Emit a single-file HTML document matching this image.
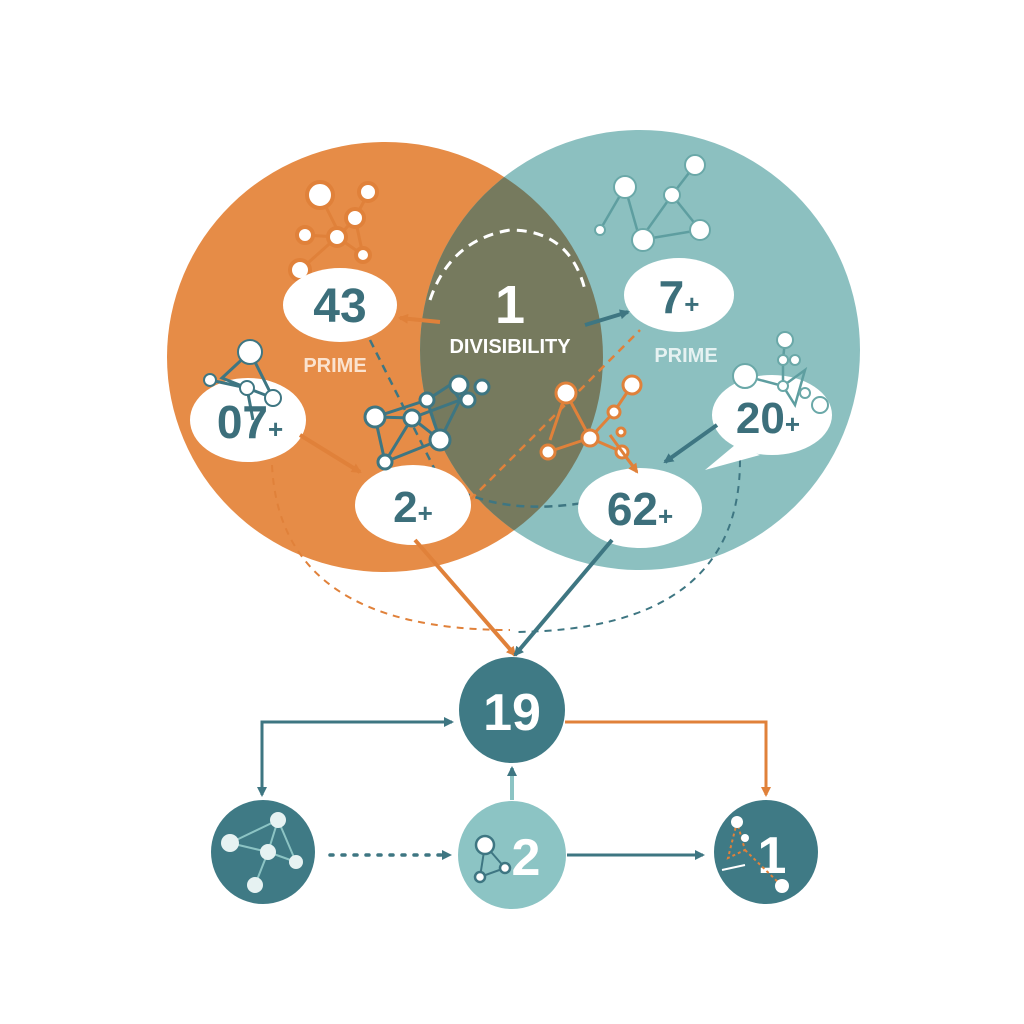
<!DOCTYPE html>
<html><head><meta charset="utf-8"><style>html,body{margin:0;padding:0;background:#fff}svg{display:block}text{font-family:"Liberation Sans",sans-serif;font-weight:bold}</style></head><body>
<svg width="1024" height="1024" viewBox="0 0 1024 1024" xmlns="http://www.w3.org/2000/svg">
<defs>
<clipPath id="oc"><ellipse cx="385" cy="357" rx="218" ry="215"/></clipPath>
<marker id="ao" markerWidth="10" markerHeight="10" refX="8" refY="5" orient="auto" markerUnits="userSpaceOnUse"><path d="M0,0 L10,5 L0,10 z" fill="#E0813A"/></marker>
<marker id="at" markerWidth="10" markerHeight="10" refX="8" refY="5" orient="auto" markerUnits="userSpaceOnUse"><path d="M0,0 L10,5 L0,10 z" fill="#3E7682"/></marker>
</defs>
<rect width="1024" height="1024" fill="#fff"/>
<ellipse cx="385" cy="357" rx="218" ry="215" fill="#E68C47"/>
<ellipse cx="640" cy="350" rx="220" ry="220" fill="#8CC0C0"/>
<ellipse cx="640" cy="350" rx="220" ry="220" fill="#767A5E" clip-path="url(#oc)"/>
<path d="M272 465 Q280 630 510 630" fill="none" stroke="#E0813A" stroke-width="2" stroke-dasharray="7,6"/>
<path d="M740 460 Q740 630 515 632" fill="none" stroke="#3E7682" stroke-width="2" stroke-dasharray="7,6"/>
<path d="M430 300 Q450 240 510 230 Q570 230 585 290" fill="none" stroke="#fff" stroke-width="3" stroke-dasharray="10,7"/>
<path d="M370 340 L440 480 Q500 520 600 500" fill="none" stroke="#3E7682" stroke-width="2.5" stroke-dasharray="8,6"/>
<path d="M470 500 L540 430 L640 330" fill="none" stroke="#E0813A" stroke-width="2.5" stroke-dasharray="8,6"/>
<g stroke="#E0813A" stroke-width="3" fill="none"><path d="M320 195 L340 235 L355 218 L370 190 M305 235 L337 237 L363 255 L355 218 M337 237 L300 270"/></g>
<g fill="#fff" stroke="#E0813A" stroke-width="4"><circle cx="320" cy="195" r="13"/><circle cx="368" cy="192" r="9"/><circle cx="355" cy="218" r="9"/><circle cx="305" cy="235" r="8"/><circle cx="337" cy="237" r="9"/><circle cx="363" cy="255" r="7"/><circle cx="300" cy="270" r="10"/></g>
<g stroke="#5E9EA0" stroke-width="2.5" fill="none"><path d="M625 187 L640 240 L672 195 L695 165 M625 187 L600 230 M672 195 L700 230 L640 240"/></g>
<g fill="#fff" stroke="#6AA8A8" stroke-width="2"><circle cx="625" cy="187" r="11"/><circle cx="695" cy="165" r="10"/><circle cx="672" cy="195" r="8"/><circle cx="600" cy="230" r="5"/><circle cx="700" cy="230" r="10"/><circle cx="643" cy="240" r="11"/></g>
<g fill="#fff">
<ellipse cx="340" cy="305" rx="57" ry="37"/>
<ellipse cx="679" cy="295" rx="55" ry="37"/>
<ellipse cx="248" cy="420" rx="58" ry="42"/>
<ellipse cx="413" cy="505" rx="58" ry="40"/>
<ellipse cx="640" cy="508" rx="62" ry="40"/>
<path d="M705 470 L735 445 L760 455 Z"/>
<ellipse cx="772" cy="415" rx="60" ry="40"/>
</g>
<g stroke="#3E7682" stroke-width="3" fill="none"><path d="M250 352 L222 378 L247 388 L253 420 M250 352 L273 398 L247 388 M210 380 L247 388"/></g>
<g fill="#fff" stroke="#3E7682" stroke-width="2"><circle cx="250" cy="352" r="12"/><circle cx="210" cy="380" r="6"/><circle cx="247" cy="388" r="7"/><circle cx="273" cy="398" r="8"/></g>
<g stroke="#3E7682" stroke-width="3" fill="none"><path d="M375 417 L427 400 L450 385 L460 400 L412 418 L375 417 L385 462 L412 418 L440 440 L385 462 M427 400 L440 440 M460 400 L440 440"/></g>
<g fill="#fff" stroke="#3E7682" stroke-width="3"><circle cx="375" cy="417" r="10"/><circle cx="427" cy="400" r="7"/><circle cx="459" cy="385" r="9"/><circle cx="482" cy="387" r="7"/><circle cx="468" cy="400" r="7"/><circle cx="412" cy="418" r="8"/><circle cx="440" cy="440" r="10"/><circle cx="385" cy="462" r="7"/></g>
<g stroke="#E0813A" stroke-width="3" fill="none"><path d="M566 393 L590 438 L614 412 L632 385 M590 438 L548 452 M590 438 L622 452 L636 470 M566 393 L550 440"/></g>
<g fill="#fff" stroke="#E0813A" stroke-width="3"><circle cx="566" cy="393" r="10"/><circle cx="632" cy="385" r="9"/><circle cx="614" cy="412" r="6"/><circle cx="590" cy="438" r="8"/><circle cx="548" cy="452" r="7"/><circle cx="622" cy="452" r="6"/><circle cx="621" cy="432" r="4"/></g>
<g stroke="#5E9EA0" stroke-width="2.5" fill="none"><path d="M785 340 L783 360 L783 386 L795 405 L805 370 L783 386 M745 376 L783 386"/></g>
<g fill="#fff" stroke="#6AA8A8" stroke-width="2"><circle cx="785" cy="340" r="8"/><circle cx="745" cy="376" r="12"/><circle cx="783" cy="360" r="5"/><circle cx="795" cy="360" r="5"/><circle cx="783" cy="386" r="5"/><circle cx="805" cy="393" r="5"/><circle cx="820" cy="405" r="8"/></g>
<line x1="440" y1="322" x2="400" y2="318" stroke="#E0813A" stroke-width="4" marker-end="url(#ao)"/>
<line x1="585" y1="325" x2="628" y2="312" stroke="#3E7682" stroke-width="4" marker-end="url(#at)"/>
<line x1="300" y1="435" x2="360" y2="472" stroke="#E0813A" stroke-width="4" marker-end="url(#ao)"/>
<line x1="717" y1="425" x2="665" y2="462" stroke="#3E7682" stroke-width="4" marker-end="url(#at)"/>
<line x1="610" y1="435" x2="637" y2="472" stroke="#E0813A" stroke-width="3" marker-end="url(#ao)"/>
<g fill="#3C6F7B" text-anchor="middle">
<text x="340" y="322" font-size="48">43</text>
<text x="679" y="313" font-size="46">7<tspan font-size="26">+</tspan></text>
<text x="250" y="438" font-size="46">07<tspan font-size="26">+</tspan></text>
<text x="413" y="522" font-size="44">2<tspan font-size="26">+</tspan></text>
<text x="640" y="525" font-size="46">62<tspan font-size="26">+</tspan></text>
<text x="768" y="433" font-size="44">20<tspan font-size="26">+</tspan></text>
</g>
<text x="510" y="323" font-size="54" fill="#fff" text-anchor="middle">1</text>
<text x="510" y="353" font-size="20" fill="#fff" text-anchor="middle">DIVISIBILITY</text>
<text x="335" y="372" font-size="20" fill="#FBE3CF" text-anchor="middle">PRIME</text>
<text x="686" y="362" font-size="20" fill="#E6F2F2" text-anchor="middle">PRIME</text>
<line x1="415" y1="540" x2="515" y2="655" stroke="#E0813A" stroke-width="4" marker-end="url(#ao)"/>
<line x1="612" y1="540" x2="515" y2="655" stroke="#3E7682" stroke-width="4" marker-end="url(#at)"/>
<path d="M262 795 L262 722 L452 722" fill="none" stroke="#3E7682" stroke-width="3" marker-end="url(#at)"/>
<path d="M262 735 L262 795" fill="none" stroke="#3E7682" stroke-width="3" marker-end="url(#at)"/>
<path d="M565 722 L766 722 L766 795" fill="none" stroke="#E0813A" stroke-width="3" marker-end="url(#ao)"/>
<line x1="512" y1="800" x2="512" y2="768" stroke="#8CC4C4" stroke-width="4" marker-end="url(#at)"/>
<line x1="330" y1="855" x2="450" y2="855" stroke="#3E7682" stroke-width="3.5" stroke-dasharray="3,9" stroke-linecap="round" marker-end="url(#at)"/>
<line x1="567" y1="855" x2="703" y2="855" stroke="#3E7682" stroke-width="3" marker-end="url(#at)"/>
<circle cx="512" cy="710" r="53" fill="#3F7A85"/>
<text x="512" y="730" font-size="52" fill="#fff" text-anchor="middle">19</text>
<circle cx="263" cy="852" r="52" fill="#3F7A85"/>
<g stroke="#8CC4C4" stroke-width="2" fill="none"><path d="M230 843 L278 820 L268 852 L230 843 M268 852 L255 885 M268 852 L296 862 L278 820"/></g>
<g fill="#E6F2F2"><circle cx="230" cy="843" r="9"/><circle cx="278" cy="820" r="8"/><circle cx="268" cy="852" r="8"/><circle cx="296" cy="862" r="7"/><circle cx="255" cy="885" r="8"/></g>
<circle cx="512" cy="855" r="54" fill="#8CC4C4"/>
<g stroke="#3E7682" stroke-width="2" fill="none"><path d="M485 845 L480 877 L505 868 L485 845"/></g>
<g fill="#fff" stroke="#3E7682" stroke-width="2.5"><circle cx="485" cy="845" r="9"/><circle cx="480" cy="877" r="5"/><circle cx="505" cy="868" r="5"/></g>
<text x="526" y="875" font-size="52" fill="#fff" text-anchor="middle">2</text>
<circle cx="766" cy="852" r="52" fill="#3F7A85"/>
<text x="772" y="873" font-size="52" fill="#fff" text-anchor="middle">1</text>
<g stroke="#E0813A" stroke-width="2" fill="none"><path d="M737 822 L728 858 L745 850 L737 822 M745 850 L782 886" stroke-dasharray="3,3"/></g>
<g fill="#fff"><circle cx="737" cy="822" r="6"/><circle cx="745" cy="838" r="4"/><circle cx="782" cy="886" r="7"/></g>
<line x1="745" y1="865" x2="722" y2="870" stroke="#fff" stroke-width="2"/>
</svg>
</body></html>
